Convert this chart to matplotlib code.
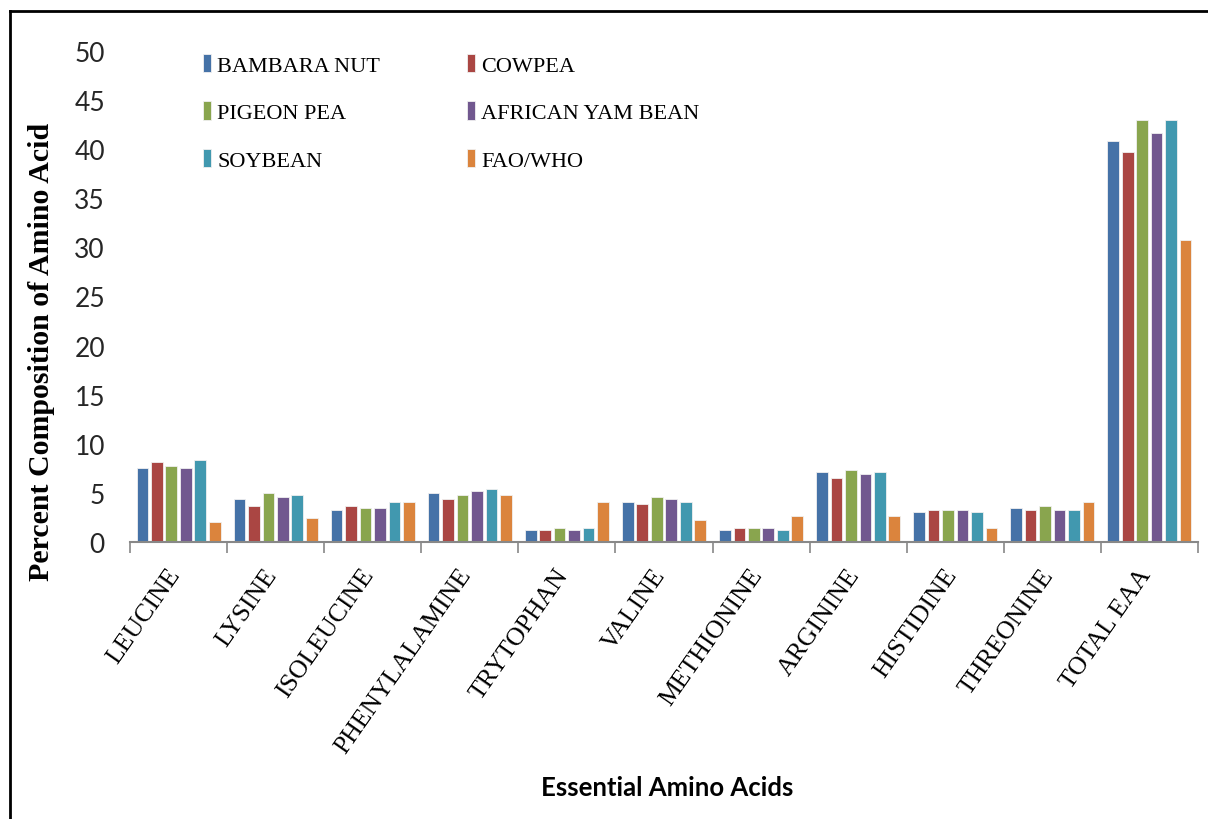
import numpy as np
import matplotlib.pyplot as plt
from matplotlib.lines import Line2D
from matplotlib.transforms import ScaledTranslation

# categories and series (percent composition of amino acid)
acids = ["LEUCINE", "LYSINE", "ISOLEUCINE", "PHENYLALAMINE", "TRYTOPHAN", "VALINE",
         "METHIONINE", "ARGININE", "HISTIDINE", "THREONINE", "TOTAL EAA"]
bambara = [7.5, 4.4, 3.3, 5.0, 1.2, 4.1, 1.2, 7.1, 3.1, 3.5, 40.8]
cowpea = [8.1, 3.7, 3.7, 4.4, 1.2, 3.9, 1.4, 6.5, 3.3, 3.3, 39.7]
pigeon = [7.7, 5.0, 3.5, 4.8, 1.4, 4.6, 1.4, 7.3, 3.3, 3.7, 43.0]
yambean = [7.5, 4.6, 3.5, 5.2, 1.2, 4.4, 1.4, 6.9, 3.3, 3.3, 41.6]
soybean = [8.3, 4.8, 4.1, 5.4, 1.4, 4.1, 1.2, 7.1, 3.1, 3.3, 43.0]
faowho = [2.0, 2.4, 4.1, 4.8, 4.1, 2.2, 2.6, 2.6, 1.4, 4.1, 30.8]

series = [("BAMBARA NUT", bambara, "#4572A7"),
          ("COWPEA", cowpea, "#AA4643"),
          ("PIGEON PEA", pigeon, "#89A54E"),
          ("AFRICAN YAM BEAN", yambean, "#71588F"),
          ("SOYBEAN", soybean, "#4198AF"),
          ("FAO/WHO", faowho, "#DB843D")]

fig = plt.figure(figsize=(12.08, 8.2), dpi=100)
ax = fig.add_axes([0.1076, 0.3378, 0.8841, 0.5988])

x = np.arange(len(acids))
slot = 0.149
bw = 0.12
handles = {}
for i, (name, vals, col) in enumerate(series):
    off = (i - 2.5) * slot
    b = ax.bar(x + off, vals, bw, color=col, edgecolor="#f0f0f0", linewidth=0.6, label=name)
    handles[name] = b

ax.set_xlim(-0.5, len(acids) - 0.5)
ax.set_ylim(0, 50)
ax.set_yticks(np.arange(0, 51, 5))
ax.tick_params(axis="y", length=0, pad=18, labelsize=19, labelcolor="#262626")
for lab in ax.get_yticklabels():
    lab.set_family("Lato")

ax.set_xticks(x)
ax.set_xticklabels(acids, rotation=55, ha="right", rotation_mode="anchor",
                   family="Liberation Serif", fontsize=18.5)
ax.set_xticks(np.arange(-0.5, len(acids), 1), minor=True)
ax.tick_params(axis="x", which="major", length=0, pad=16)
ax.tick_params(axis="x", which="minor", length=8, color="#888888", width=1.2)
shift = ScaledTranslation(-12 / 100, 0, fig.dpi_scale_trans)
for lab in ax.get_xticklabels():
    lab.set_transform(lab.get_transform() + shift)

for s in ["left", "right", "top"]:
    ax.spines[s].set_visible(False)
ax.spines["bottom"].set_color("#888888")
ax.spines["bottom"].set_linewidth(1.5)

# legend: 2 columns, filled column-wise
order = ["BAMBARA NUT", "PIGEON PEA", "SOYBEAN", "COWPEA", "AFRICAN YAM BEAN", "FAO/WHO"]
leg = ax.legend([handles[n] for n in order], order, ncol=2, loc="upper left",
                bbox_to_anchor=(183 / 1208, 1 - 35 / 820), bbox_transform=fig.transFigure,
                frameon=False, prop={"family": "Liberation Serif", "size": 16},
                handlelength=0.35, handleheight=0.9, handletextpad=0.3,
                labelspacing=1.15, columnspacing=3.9)

fig.text(42 / 1208, 1 - 352 / 820, "Percent Composition of Amino Acid", rotation=90,
         ha="center", va="center", family="Liberation Serif", weight="bold", fontsize=21.5)
fig.text(667 / 1208, 1 - 788 / 820, "Essential Amino Acids", ha="center", va="center",
         family="Lato", weight="bold", fontsize=18.5)

# frame border (left and top visible)
fig.add_artist(Line2D([10 / 1208, 10 / 1208], [0, 1 - 12 / 820], transform=fig.transFigure,
                      color="black", linewidth=2))
fig.add_artist(Line2D([10 / 1208, 1], [1 - 12 / 820, 1 - 12 / 820], transform=fig.transFigure,
                      color="black", linewidth=2))

fig.savefig("out.png", dpi=100)
